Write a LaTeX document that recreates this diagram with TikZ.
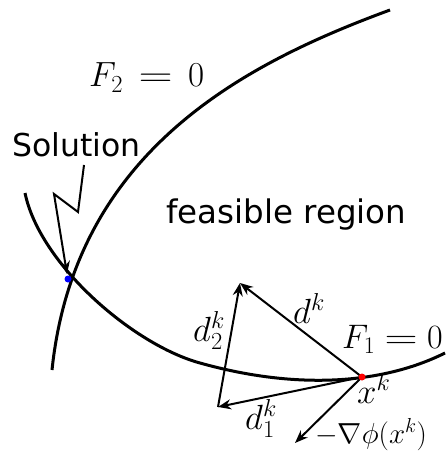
\RequirePackage{fix-cm}
\documentclass[tikz,border=0pt]{standalone}
\usepackage{fontspec}
\usepackage{graphicx}
\setsansfont{DejaVu Sans}
\usetikzlibrary{arrows.meta}
\newcommand\wideeq{\mathrel{\scalebox{1.35}[1]{$=$}}}
\tikzset{
  curve/.style={line width=3pt, line join=round},
  vec/.style={line width=2pt, -{Stealth[length=13pt,width=10pt]}},
  mlabel/.style={font=\fontsize{35}{40}\selectfont, inner sep=0pt, anchor=base west},
  slabel/.style={font=\sffamily\fontsize{31.5}{36}\selectfont, inner sep=0pt, anchor=base west},
}
\begin{document}
\begin{tikzpicture}[x=1pt,y=-1pt]
\useasboundingbox (0,0) rectangle (445,454);
% curves
\draw[curve] (52,370) .. controls (75,150) and (246,63) .. (390,10);
\draw[curve] (25,193) .. controls (40,265) and (134,345) .. (200,363)
                      .. controls (300,391) and (385,383) .. (445,353);
% points
\coordinate (xk) at (362,377);
\coordinate (top) at (240,283);
\coordinate (bl) at (218,407);
\coordinate (grad) at (295,443);
\coordinate (sol) at (68,279);
\coordinate (z1) at (84,165);
\coordinate (z2) at (78,212);
\coordinate (z3) at (54,194);
\coordinate (z4) at (67,274);
% vectors
\draw[vec] (xk) -- (top);
\draw[vec] (xk) -- (bl);
\draw[vec] (bl) -- (top);
\draw[vec] (xk) -- (grad);
% solution arrow
\draw[line width=2pt, line join=miter, -{Stealth[length=13pt,width=10pt]}] (z1) -- (z2) -- (z3) -- (z4);
% dots
\fill[red] (xk) circle (3.5);
\fill[blue] (sol) circle (3.5);
% labels
\node[mlabel] (lF2) at (89,87) {$F_2\,\wideeq\,0$};
\node[slabel] (lsol) at (12,157) {Solution};
\node[slabel,font=\sffamily\fontsize{32.5}{36}\selectfont] (lfeas) at (166,223) {feasible region};
\node[mlabel] (ldk) at (293,323) {$d^k$};
\node[mlabel,font=\fontsize{34}{38}\selectfont] (lF1) at (342,348) {$F_1\wideeq0$};
\node[mlabel] (ld2) at (193,341) {$d_2^k$};
\node[mlabel] (lxk) at (357,403) {$x^k$};
\node[mlabel] (ld1) at (245,429) {$d_1^k$};
\node[mlabel,font=\fontsize{29}{32}\selectfont] (lgrad) at (315,443) {$-\nabla\phi(x^k)$};
\end{tikzpicture}
\end{document}
